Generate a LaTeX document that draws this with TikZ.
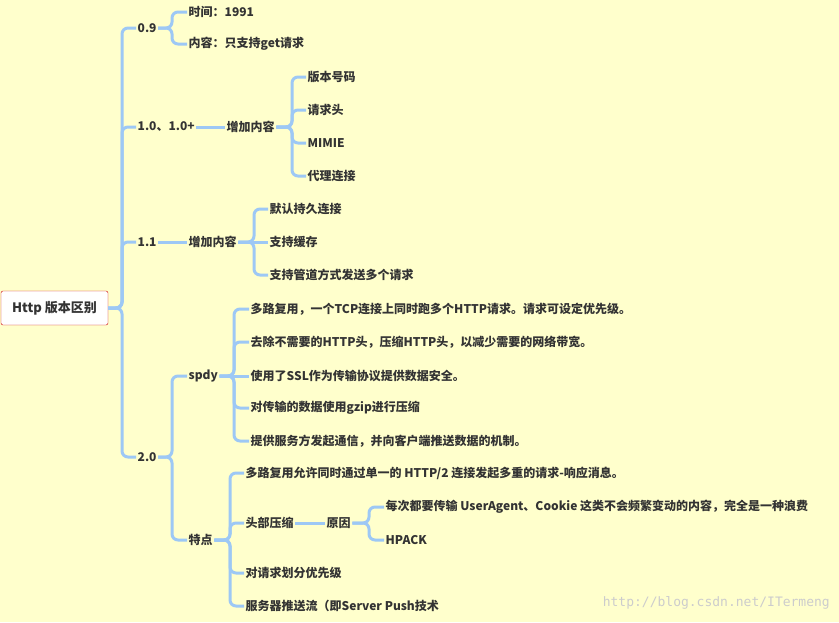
\documentclass[tikz,border=0pt]{standalone}
\usepackage{fontspec}
\setmainfont{Noto Sans CJK SC}
\newfontfamily\wmfont{DejaVu Sans Mono}
\usetikzlibrary{calc}
\definecolor{bg}{HTML}{FFFFCC}
\definecolor{ln}{HTML}{9DC8F5}
\definecolor{tx}{HTML}{333333}
\begin{document}
\begin{tikzpicture}[x=1pt,y=-1pt,
  t/.style={anchor=west,inner sep=1.5pt,text=tx,font=\fontsize{12}{14}\selectfont\bfseries},
  lnk/.style={draw=ln,line width=3pt,rounded corners=6pt}]
\fill[bg] (0,0) rectangle (839,622);
\useasboundingbox (0,0) rectangle (839,622);
\newcommand\br[3]{\draw[lnk] let \p1=(#1.east) in (\p1) -- (#2pt,\y1) |- (#3.west);}
\node[draw=red!80!black,fill=white,rounded corners=2pt,minimum width=107,minimum height=34,inner sep=0,text=tx,font=\fontsize{13}{15}\selectfont\bfseries] (root) at (54.5,308) {Http 版本区别};
\node[t] (a) at (136,28) {0.9};
\node[t] (b) at (136,127) {1.0、1.0+};
\node[t] (c) at (136,242) {1.1};
\node[t] (d) at (136,457) {2.0};
\foreach \q in {a,b,c,d} {\br{root}{122}{\q}}
\node[t] (a1) at (187,12) {时间：1991};
\node[t] (a2) at (187,44) {内容：只支持get请求};
\br{a}{172}{a1}\br{a}{172}{a2}
\node[t] (b0) at (225,127) {增加内容};
\draw[lnk] (b.east) -- (b0.west);
\node[t] (b1) at (306,77) {版本号码};
\node[t] (b2) at (306,110) {请求头};
\node[t] (b3) at (306,143) {MIMIE};
\node[t] (b4) at (306,176) {代理连接};
\foreach \q in {b1,b2,b3,b4} {\br{b0}{292}{\q}}
\node[t] (c0) at (187,242) {增加内容};
\draw[lnk] (c.east) -- (c0.west);
\node[t] (c1) at (268,209) {默认持久连接};
\node[t] (c2) at (268,242) {支持缓存};
\node[t] (c3) at (268,275) {支持管道方式发送多个请求};
\br{c0}{254}{c1}\draw[lnk] (c0.east) -- (c2.west);\br{c0}{254}{c3}
\node[t] (s) at (187,376) {spdy};
\node[t] (f) at (187,540) {特点};
\br{d}{172}{s}\br{d}{172}{f}
\node[t] (s1) at (249,309) {多路复用，一个TCP连接上同时跑多个HTTP请求。请求可设定优先级。};
\node[t] (s2) at (249,342) {去除不需要的HTTP头，压缩HTTP头，以减少需要的网络带宽。};
\node[t] (s3) at (249,376) {使用了SSL作为传输协议提供数据安全。};
\node[t] (s4) at (249,408) {对传输的数据使用gzip进行压缩};
\node[t] (s5) at (249,441) {提供服务方发起通信，并向客户端推送数据的机制。};
\br{s}{234}{s1}\br{s}{234}{s2}\draw[lnk] (s.east) -- (s3.west);\br{s}{234}{s4}\br{s}{234}{s5}
\node[t] (f1) at (244,473) {多路复用允许同时通过单一的 HTTP/2 连接发起多重的请求-响应消息。};
\node[t] (f2) at (244,523) {头部压缩};
\node[t] (f3) at (244,573) {对请求划分优先级};
\node[t] (f4) at (244,606) {服务器推送流（即Server Push技术};
\foreach \q in {f1,f2,f3,f4} {\br{f}{230}{\q}}
\node[t] (g) at (325,523) {原因};
\draw[lnk] (f2.east) -- (g.west);
\node[t] (g1) at (384,507) {每次都要传输 UserAgent、Cookie 这类不会频繁变动的内容，完全是一种浪费};
\node[t] (g2) at (384,540) {HPACK};
\br{g}{369}{g1}\br{g}{369}{g2}
\node[anchor=east,inner sep=0,text=black!20,font=\wmfont\fontsize{13}{15}\selectfont] (wm) at (830,603) {http://blog.csdn.net/ITermeng};
\end{tikzpicture}
\end{document}
